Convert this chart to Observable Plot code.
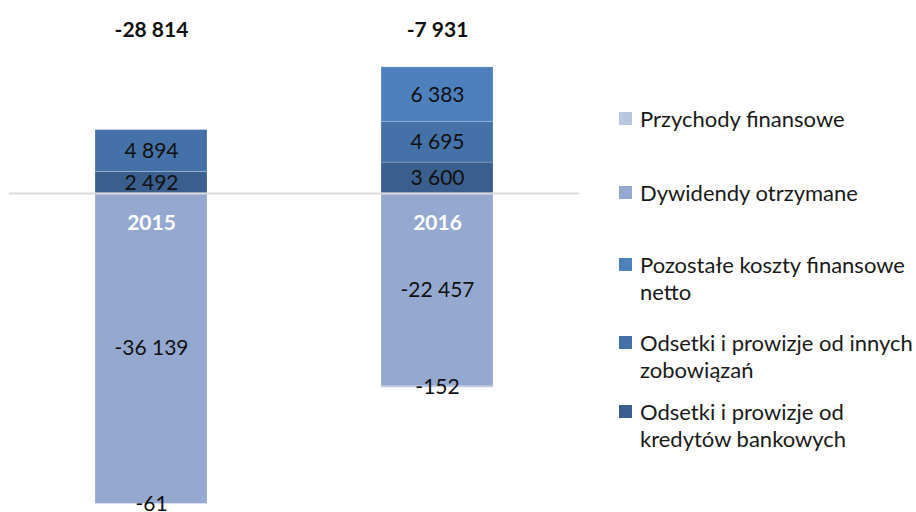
<!DOCTYPE html>
<html>
<head>
<meta charset="utf-8">
<script src="https://cdn.jsdelivr.net/npm/d3@7"></script>
<script src="https://cdn.jsdelivr.net/npm/@observablehq/plot@0.6"></script>
<style>
  html, body { margin: 0; padding: 0; background: #fff; }
  #wrap { position: relative; width: 916px; height: 512px; overflow: hidden; font-family: Lato, sans-serif; }
  #legend { position: absolute; left: 619px; top: 0; width: 297px; }
  .item { position: absolute; left: 0; display: flex; align-items: flex-start; font-size: 22px; line-height: 27px; color: #1a1a1a; width: 297px; }
  .sw { width: 13px; height: 13px; margin-top: 7px; margin-right: 8px; flex: none; }
</style>
</head>
<body>
<div id="wrap"><div id="legend"></div></div>
<script>
const years = ["2015", "2016"];
const series = [
  "Odsetki i prowizje od kredytów bankowych",
  "Odsetki i prowizje od innych zobowiązań",
  "Pozostałe koszty finansowe netto",
  "Dywidendy otrzymane",
  "Przychody finansowe"
];
const colors = ["#3a5e8e", "#4471a7", "#4e80bd", "#95a9d0", "#b9c6e0"];
const values2015 = [2492, 4894, 0, -36139, -61];
const values2016 = [3600, 4695, 6383, -22457, -152];
const totals = [-28814, -7931];

const legendOrder = [4, 3, 2, 1, 0];
const legendCenters = [118, 192, 264, 342, 411];

const rows = [];
series.forEach((s, i) => {
  rows.push({year: years[0], series: s, value: values2015[i]});
  rows.push({year: years[1], series: s, value: values2016[i]});
});
const totalRows = years.map((y, i) => ({year: y, total: totals[i]}));

const fmt = d3.formatLocale({decimal: ",", thousands: " ", grouping: [3], currency: ["", ""], minus: "-"}).format(",d");

const chart = Plot.plot({
  width: 916,
  height: 512,
  marginTop: 0,
  marginBottom: 0,
  marginLeft: 9,
  marginRight: 337,
  style: {fontFamily: "Lato, sans-serif", fontSize: "21px", background: "transparent"},
  x: {domain: years, paddingInner: 0.609, paddingOuter: 0.3, axis: null},
  y: {domain: [-37132, 22465], axis: null},
  color: {domain: series, range: colors},
  marks: [
    Plot.barY(rows, Plot.stackY({x: "year", y: "value", fill: "series", order: null, stroke: "white", strokeOpacity: 0.35, strokeWidth: 0.6})),
    Plot.ruleY([0], {stroke: "#d9d9d9", strokeWidth: 2.2}),
    Plot.text(rows, Plot.stackY({filter: d => d.value !== 0, x: "year", y: "value", text: d => fmt(d.value), fill: "#111", fontSize: 21})),
    Plot.text(years, {x: d => d, y: 0, text: d => d, fill: "white", fontWeight: "bold", fontSize: 21, dy: 30}),
    Plot.text(totalRows, {x: "year", text: d => fmt(d.total), frameAnchor: "top", dy: 22, fontWeight: "bold", fontSize: 21, fill: "#111"})
  ]
});
document.getElementById("wrap").prepend(chart);

const legend = document.getElementById("legend");
legendOrder.forEach((idx, k) => {
  const item = document.createElement("div");
  item.className = "item";
  item.style.top = (legendCenters[k] - 13.5) + "px";
  const sw = document.createElement("div");
  sw.className = "sw";
  sw.style.background = colors[idx];
  const label = document.createElement("div");
  label.textContent = series[idx];
  item.appendChild(sw);
  item.appendChild(label);
  legend.appendChild(item);
});
</script>
</body>
</html>
